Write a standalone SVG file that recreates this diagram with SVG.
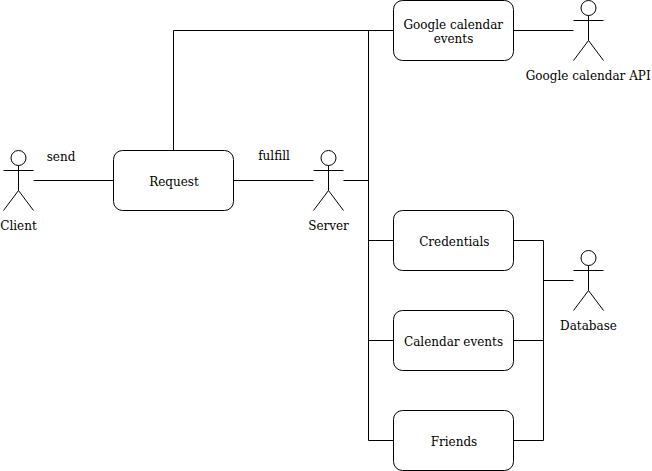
<svg xmlns="http://www.w3.org/2000/svg" width="652" height="471" viewBox="0 0 652 471">
<style>
.n{fill:#fff;stroke:#000;stroke-width:1}
.l{fill:none;stroke:#000;stroke-width:1}
text{font-family:"DejaVu Serif",serif;font-size:12px;fill:#000;text-anchor:middle}
</style>
<defs>
<g id="actor"><circle class="l" cx="15" cy="7.5" r="7.5"/><path class="l" d="M15 15V40M0 20H30M15 40L0 60M15 40L30 60"/></g>
</defs>
<rect width="652" height="471" fill="#fff"/>
<g id="connectors">
<path class="l" d="M33.500 180.500H113.500"/>
<path class="l" d="M233.500 180.500H313.500"/>
<path class="l" d="M173.500 150.500V30.500H393.500"/>
<path class="l" d="M343.500 180.500H368.500"/>
<path class="l" d="M368.500 30.500V440.500H393.500"/>
<path class="l" d="M368.500 240.500H393.500"/>
<path class="l" d="M368.500 340.500H393.500"/>
<path class="l" d="M513.500 30.500H573.500"/>
<path class="l" d="M513.500 240.500H543.500V440.500H513.500"/>
<path class="l" d="M513.500 340.500H543.500"/>
<path class="l" d="M543.500 280.500H573.500"/>
<text x="61" y="161">send</text>
<text x="274" y="160">fulfill</text>
</g>
<g id="client"><use href="#actor" x="3.500" y="150.500"/><text x="18.500" y="230">Client</text></g>
<g id="request"><rect class="n" x="113.500" y="150.500" width="120" height="60" rx="9" ry="9"/><text x="174" y="186">Request</text></g>
<g id="server"><use href="#actor" x="313.500" y="150.500"/><text x="328.500" y="230">Server</text></g>
<g id="google-events"><rect class="n" x="393.500" y="0.500" width="120" height="60" rx="9" ry="9"/><text x="453.300" y="29">Google calendar</text><text x="453.500" y="43">events</text></g>
<g id="google-api"><use href="#actor" x="573.500" y="0.500"/><text x="588.200" y="80">Google calendar API</text></g>
<g id="credentials"><rect class="n" x="393.500" y="210.500" width="120" height="60" rx="9" ry="9"/><text x="454.300" y="246">Credentials</text></g>
<g id="calendar-events"><rect class="n" x="393.500" y="310.500" width="120" height="60" rx="9" ry="9"/><text x="453.500" y="346">Calendar events</text></g>
<g id="friends"><rect class="n" x="393.500" y="410.500" width="120" height="60" rx="9" ry="9"/><text x="454" y="446">Friends</text></g>
<g id="database"><use href="#actor" x="573.500" y="250.500"/><text x="588.500" y="330">Database</text></g>
</svg>
